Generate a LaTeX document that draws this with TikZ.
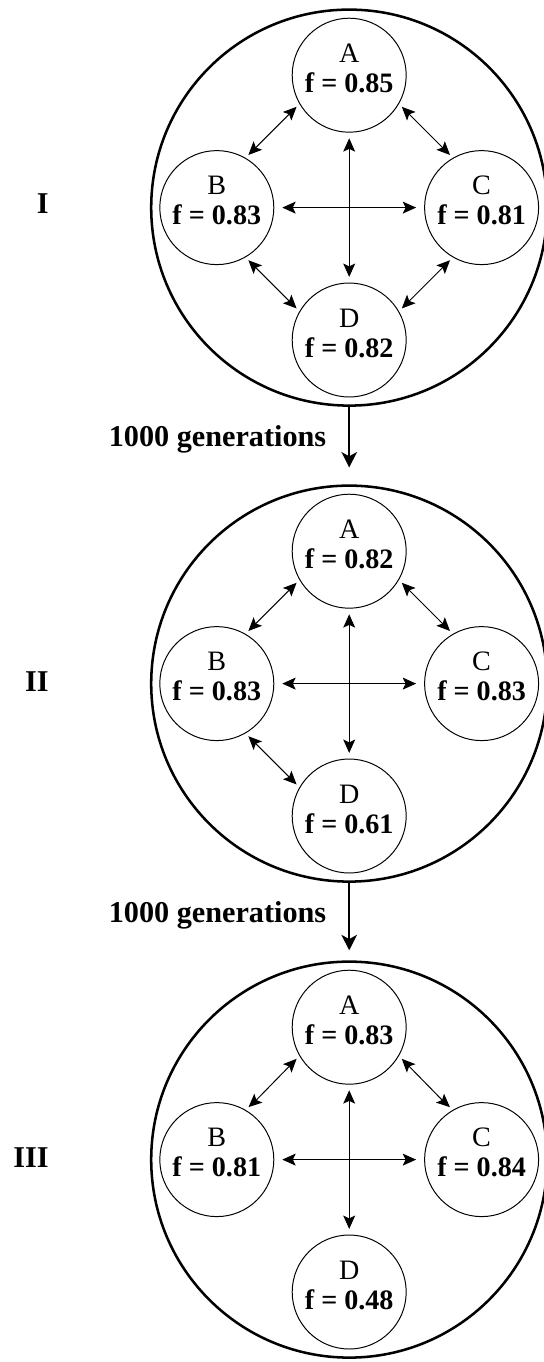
\documentclass[tikz,border=0pt]{standalone}
\usepackage{fontspec}
\setmainfont{Liberation Serif}
\usetikzlibrary{arrows.meta,positioning}
\tikzset{
    population/.style={draw, circle, line width=1.8pt, minimum size=9.9cm, inner sep=0pt},
    deme/.style={draw, circle, line width=0.7pt, minimum size=2.85cm, inner sep=0pt,
        align=center, font=\fontsize{20pt}{21.3pt}\selectfont, text depth=0.35cm},
    migrate/.style={<->, line width=0.7pt, shorten <=0.1cm, shorten >=0.1cm},
    evolve/.style={-{Stealth[length=11pt,width=11pt,inset=3pt]}, line width=1.4pt},
    tag/.style={font=\fontsize{21.5pt}{24pt}\selectfont\bfseries, inner sep=0pt},
}

\begin{document}
\begin{tikzpicture}[>={Stealth[length=9.5pt,width=8.5pt,inset=2pt]}]

    \useasboundingbox (0,0) rectangle (13.6,-34.05);

    % ==========================================
    % 1. Population I
    % ==========================================
    \node[population] (popI) at (8.73,-5.19) {};
    \node[tag, anchor=east] (tagI) at (1.225,-5.1) {I};

    \node[deme] (a1) at (8.73,-1.88) {A\\\textbf{f = 0.85}};
    \node[deme] (b1) at (5.42,-5.19) {B\\\textbf{f = 0.83}};
    \node[deme] (c1) at (12.04,-5.19) {C\\\textbf{f = 0.81}};
    \node[deme] (d1) at (8.73,-8.50) {D\\\textbf{f = 0.82}};

    \draw[migrate] (a1.210) -- (b1.60);
    \draw[migrate] (a1.330) -- (c1.120);
    \draw[migrate] (b1.300) -- (d1.150);
    \draw[migrate] (c1.240) -- (d1.30);
    \draw[migrate, shorten <=0.2cm, shorten >=0.2cm] (b1) -- (c1);
    \draw[migrate, shorten <=0.14cm, shorten >=0.14cm] (a1) -- (d1);

    % ==========================================
    % 2. Population II
    % ==========================================
    \node[population] (popII) at (8.73,-17.09) {};
    \node[tag, anchor=east] (tagII) at (1.225,-17.03) {II};

    \node[deme] (a2) at (8.73,-13.78) {A\\\textbf{f = 0.82}};
    \node[deme] (b2) at (5.42,-17.09) {B\\\textbf{f = 0.83}};
    \node[deme] (c2) at (12.04,-17.09) {C\\\textbf{f = 0.83}};
    \node[deme] (d2) at (8.73,-20.40) {D\\\textbf{f = 0.61}};

    \draw[migrate] (a2.210) -- (b2.60);
    \draw[migrate] (a2.330) -- (c2.120);
    \draw[migrate] (b2.300) -- (d2.150);
    \draw[migrate, shorten <=0.2cm, shorten >=0.2cm] (b2) -- (c2);
    \draw[migrate, shorten <=0.14cm, shorten >=0.14cm] (a2) -- (d2);

    % ==========================================
    % 3. Population III
    % ==========================================
    \node[population] (popIII) at (8.73,-28.99) {};
    \node[tag, anchor=east] (tagIII) at (1.225,-28.93) {III};

    \node[deme] (a3) at (8.73,-25.68) {A\\\textbf{f = 0.83}};
    \node[deme] (b3) at (5.42,-28.99) {B\\\textbf{f = 0.81}};
    \node[deme] (c3) at (12.04,-28.99) {C\\\textbf{f = 0.84}};
    \node[deme] (d3) at (8.73,-32.30) {D\\\textbf{f = 0.48}};

    \draw[migrate] (a3.210) -- (b3.60);
    \draw[migrate] (a3.330) -- (c3.120);
    \draw[migrate, shorten <=0.2cm, shorten >=0.2cm] (b3) -- (c3);
    \draw[migrate, shorten <=0.14cm, shorten >=0.14cm] (a3) -- (d3);

    % Time steps between populations
    \draw[evolve, shorten >=0.42cm] (popI) -- (popII)
        node[tag, pos=0.42, left=0.55cm] (genI) {1000 generations};
    \draw[evolve, shorten >=0.25cm] (popII) -- (popIII)
        node[tag, pos=0.42, left=0.55cm] (genII) {1000 generations};

\end{tikzpicture}
\end{document}
